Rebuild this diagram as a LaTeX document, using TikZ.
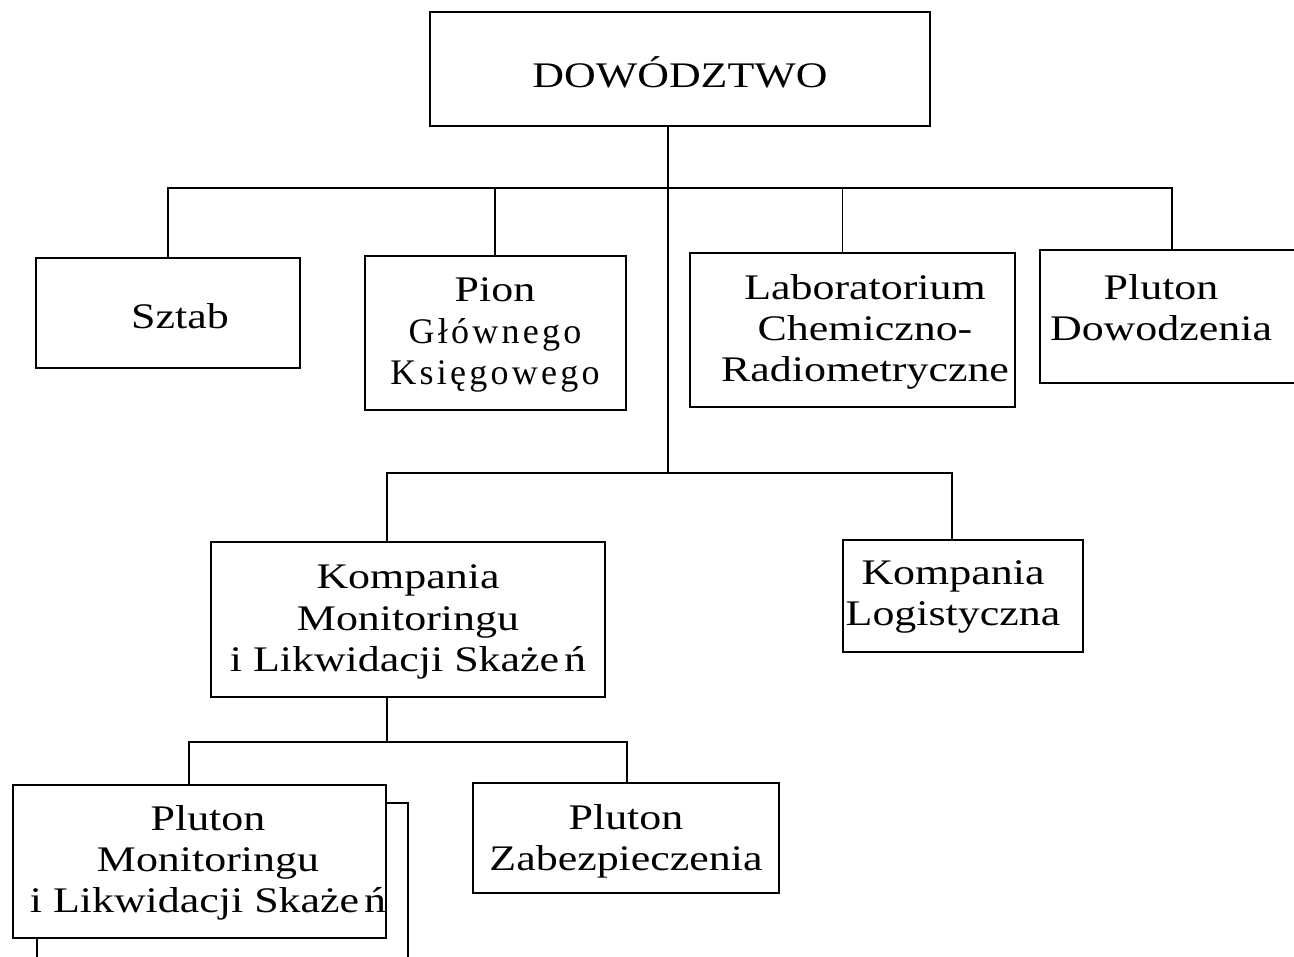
\documentclass[tikz,border=0pt]{standalone}
\usepackage{fontspec}
\setmainfont{Liberation Serif}[FakeStretch=1.22]
\newfontfamily\spacedfont{Liberation Serif}[LetterSpace=9]
\begin{document}
\begin{tikzpicture}[x=0.5pt,y=-0.5pt,
  box/.style={draw,line width=1pt,fill=white,inner sep=0pt,outer sep=0pt},
  lbl/.style={align=center,inner sep=0pt,font=\fontsize{18}{20.6}\selectfont},
  conn/.style={line width=0.8pt}]
\clip (0,0) rectangle (1294,957);
\fill[white] (0,0) rectangle (1294,957);

% boxes
\node[box,minimum width=250pt,minimum height=57pt] (dow) at (680,69) {};
\node[box,minimum width=132pt,minimum height=55pt] (sztab) at (168,313) {};
\node[box,minimum width=130.5pt,minimum height=77pt] (pion) at (495.5,333) {};
\node[box,minimum width=162.5pt,minimum height=77pt] (lab) at (852.5,330) {};
\node[box,minimum width=135pt,minimum height=66.5pt] (pdow) at (1175,316.5) {};
\node[box,minimum width=197pt,minimum height=77.5pt] (kmils) at (408,619.5) {};
\node[box,minimum width=120pt,minimum height=56pt] (klog) at (963,596) {};
\node[box,minimum width=185.5pt,minimum height=90pt] (pback) at (222.5,892.5) {};
\node[box,minimum width=186.5pt,minimum height=76.5pt] (pmils) at (199.5,861.5) {};
\node[box,minimum width=153pt,minimum height=55pt] (pzab) at (626,838) {};

% labels
\node[lbl] (dowt) at (680,72) {DOWÓDZTWO};
\node[lbl] (sztabt) at (180,316) {Sztab};
\node[lbl] (piont) at (495,335) {Pion\\{\spacedfont Głównego}\\{\spacedfont Księgowego}};
\node[lbl] (labt) at (865,332) {Laboratorium\\Chemiczno-\\Radiometryczne};
\node[lbl] (pdowt) at (1161,308) {Pluton\\Dowodzenia};
\node[lbl] (kmilst) at (408,622) {Kompania\\Monitoringu\\i Likwidacji Skaże\kern2.5pt ń};
\node[lbl] (klogt) at (953,597) {Kompania\\Logistyczna};
\node[lbl] (pmilst) at (208,863) {Pluton\\Monitoringu\\i Likwidacji Skaże\kern2.5pt ń};
\node[lbl] (pzabt) at (626,841) {Pluton\\Zabezpieczenia};

% junctions
\coordinate (j1) at (668,188);
\coordinate (j2) at (668,473);
\coordinate (j3) at (387,742);

% connectors
\draw[conn] (dow.south -| j1) -- (j2);
\draw[conn] (sztab.north) |- (j1);
\draw[conn] (pion.north -| 495,0) |- (j1);
\draw[conn] ([xshift=-5pt]lab.north) |- (j1);
\draw[conn] (pdow.north -| 1172,0) |- (j1);
\draw[conn] (kmils.north -| j3) |- (j2);
\draw[conn] ([xshift=-5.5pt]klog.north) |- (j2);
\draw[conn] (kmils.south -| j3) -- (j3);
\draw[conn] ([xshift=-5.25pt]pmils.north) |- (j3);
\draw[conn] (pzab.north -| 627,0) |- (j3);
\end{tikzpicture}
\end{document}
